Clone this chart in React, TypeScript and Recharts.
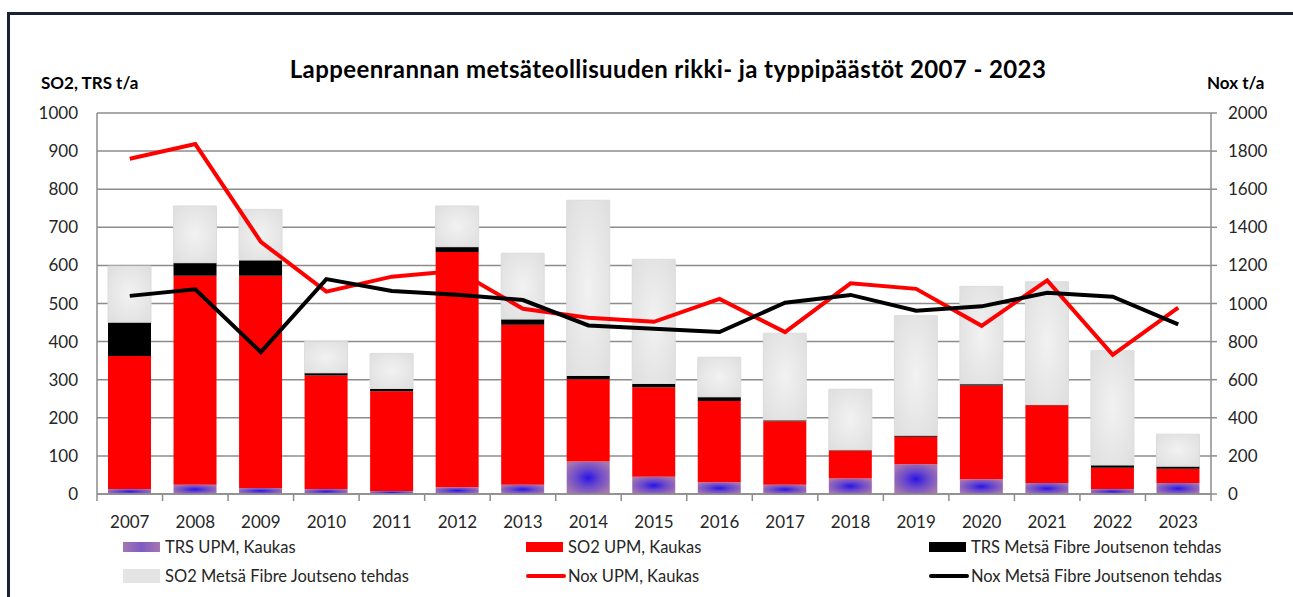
import React from "react";
import {
  ComposedChart,
  Bar,
  Line,
  XAxis,
  YAxis,
  CartesianGrid,
} from "recharts";

const years = ["2007", "2008", "2009", "2010", "2011", "2012", "2013", "2014", "2015", "2016", "2017", "2018", "2019", "2020", "2021", "2022", "2023"];
const trsUpm = [13, 24, 16, 13, 8, 18, 24, 85, 45, 31, 24, 41, 78, 39, 29, 13, 29];
const so2Upm = [349, 549, 557, 298, 262, 617, 420, 216, 235, 213, 167, 73, 72, 246, 204, 56, 37];
const trsMetsa = [89, 34, 41, 7, 7, 14, 15, 10, 10, 11, 3, 2, 4, 4, 2, 7, 7];
const so2Metsa = [147, 149, 133, 82, 92, 107, 173, 460, 326, 104, 228, 159, 314, 256, 322, 300, 84];
const noxUpm = [1760, 1837, 1324, 1062, 1141, 1172, 972, 925, 904, 1024, 850, 1106, 1077, 883, 1121, 730, 978];
const noxMetsa = [1040, 1075, 745, 1128, 1066, 1046, 1018, 885, 868, 850, 1004, 1045, 962, 985, 1056, 1036, 890];

const leftTicks = [0, 100, 200, 300, 400, 500, 600, 700, 800, 900, 1000];
const rightTicks = [0, 200, 400, 600, 800, 1000, 1200, 1400, 1600, 1800, 2000];

const data = years.map((year, i) => ({
  year,
  trsUpm: trsUpm[i],
  so2Upm: so2Upm[i],
  trsMetsa: trsMetsa[i],
  so2Metsa: so2Metsa[i],
  noxUpm: noxUpm[i],
  noxMetsa: noxMetsa[i],
}));

const W = 1293;
const H = 597;
const LEFT_W = 97;
const RIGHT_W = 82;
const BAND = (W - LEFT_W - RIGHT_W) / years.length;
const FONT = "Lato, 'Open Sans', sans-serif";
const TXT = "#262626";
const GRID = "#8c8c8c";

function YearTick(props: any) {
  const { x, y, payload, index } = props;
  return (
    <g>
      <line x1={x - BAND / 2} x2={x - BAND / 2} y1={y} y2={y + 7} stroke={GRID} strokeWidth={1.5} />
      {index === years.length - 1 && (
        <line x1={x + BAND / 2} x2={x + BAND / 2} y1={y} y2={y + 7} stroke={GRID} strokeWidth={1.5} />
      )}
      <text x={x} y={y + 34} textAnchor="middle" fill={TXT} fontSize={17} fontFamily={FONT}>
        {payload.value}
      </text>
    </g>
  );
}

const legendItems = [
  { label: "TRS UPM, Kaukas", kind: "box", color: "#9a6cb6" },
  { label: "SO2 UPM, Kaukas", kind: "box", color: "#ff0000" },
  { label: "TRS Metsä Fibre Joutsenon tehdas", kind: "box", color: "#000000" },
  { label: "SO2 Metsä Fibre Joutseno tehdas", kind: "gray", color: "#e4e4e4" },
  { label: "Nox UPM, Kaukas", kind: "line", color: "#ff0000" },
  { label: "Nox Metsä Fibre Joutsenon tehdas", kind: "line", color: "#000000" },
];

const colX = [123, 526, 929];
const rowY = [547, 576];

function ChartLegend() {
  return (
    <>
      {legendItems.map((item, i) => {
        const cx = colX[i % 3];
        const cy = rowY[Math.floor(i / 3)];
        let swatch;
        if (item.kind === "line") {
          swatch = (
            <div style={{ position: "absolute", left: cx, top: cy - 2, width: 40, height: 4, borderRadius: 2, background: item.color }} />
          );
        } else if (item.kind === "gray") {
          swatch = (
            <div style={{ position: "absolute", left: cx, top: cy - 7, width: 37, height: 14, background: item.color }} />
          );
        } else {
          swatch = (
            <div
              style={{
                position: "absolute",
                left: cx,
                top: cy - 5,
                width: 37,
                height: 10,
                background: i === 0 ? "linear-gradient(90deg, #a676b0, #7e5cc2, #a676b0)" : item.color,
              }}
            />
          );
        }
        return (
          <React.Fragment key={item.label}>
            {swatch}
            <div
              style={{
                position: "absolute",
                left: cx + 42,
                top: cy - 11,
                fontSize: 16.5,
                lineHeight: "22px",
                fontFamily: FONT,
                color: TXT,
                whiteSpace: "nowrap",
              }}
            >
              {item.label}
            </div>
          </React.Fragment>
        );
      })}
    </>
  );
}

export default function App() {
  return (
    <div style={{ position: "absolute", left: 0, top: 0, width: W, height: H, background: "#fff", overflow: "hidden" }}>
      <div
        style={{
          position: "absolute",
          left: 7,
          top: 12,
          width: W,
          height: H,
          borderTop: "3px solid #1b2236",
          borderLeft: "3px solid #1b2236",
        }}
      />
      <div
        style={{
          position: "absolute",
          left: 0,
          width: 1336,
          top: 54,
          textAlign: "center",
          fontFamily: FONT,
          fontWeight: 700,
          fontSize: 24,
          letterSpacing: 0.4,
          color: "#000",
        }}
      >
        Lappeenrannan metsäteollisuuden rikki- ja typpipäästöt 2007 - 2023
      </div>
      <div style={{ position: "absolute", left: 41, top: 72, fontFamily: FONT, fontWeight: 700, fontSize: 17, color: "#000" }}>
        SO2, TRS t/a
      </div>
      <div style={{ position: "absolute", left: 1207, top: 72, fontFamily: FONT, fontWeight: 700, fontSize: 17, color: "#000" }}>
        Nox t/a
      </div>
      <div style={{ position: "absolute", left: 0, top: 0 }}>
        <ComposedChart
          width={W}
          height={H}
          data={data}
          margin={{ top: 113, right: 0, bottom: 63, left: 0 }}
          barSize={43}
        >
          <defs>
            <radialGradient id="trsGrad" cx="50%" cy="50%" r="60%">
              <stop offset="0%" stopColor="#2a14e6" />
              <stop offset="45%" stopColor="#6a48cc" />
              <stop offset="100%" stopColor="#a676b0" />
            </radialGradient>
            <radialGradient id="grayGrad" cx="50%" cy="50%" r="70%">
              <stop offset="0%" stopColor="#f2f2f2" />
              <stop offset="100%" stopColor="#dedede" />
            </radialGradient>
          </defs>
          <CartesianGrid vertical={false} stroke={GRID} strokeWidth={1.5} yAxisId="left" />
          <XAxis
            dataKey="year"
            height={40}
            tick={<YearTick />}
            tickLine={false}
            tickSize={0}
            tickMargin={0}
            axisLine={{ stroke: GRID, strokeWidth: 1.5 }}
            interval={0}
          />
          <YAxis
            yAxisId="left"
            width={LEFT_W}
            domain={[0, 1000]}
            ticks={leftTicks}
            tickLine={false}
            tickSize={0}
            tickMargin={19}
            axisLine={{ stroke: GRID, strokeWidth: 1.5 }}
            tick={{ fill: TXT, fontSize: 17, fontFamily: FONT }}
          />
          <YAxis
            yAxisId="right"
            orientation="right"
            width={RIGHT_W}
            domain={[0, 2000]}
            ticks={rightTicks}
            tickLine={{ stroke: GRID, strokeWidth: 1.5 }}
            tickSize={6}
            tickMargin={11}
            axisLine={{ stroke: GRID, strokeWidth: 1.5 }}
            tick={{ fill: TXT, fontSize: 17, fontFamily: FONT, textAnchor: "start" }}
          />
          <Bar yAxisId="left" dataKey="trsUpm" stackId="a" fill="url(#trsGrad)" isAnimationActive={false} />
          <Bar yAxisId="left" dataKey="so2Upm" stackId="a" fill="#ff0000" isAnimationActive={false} />
          <Bar yAxisId="left" dataKey="trsMetsa" stackId="a" fill="#000000" isAnimationActive={false} />
          <Bar yAxisId="left" dataKey="so2Metsa" stackId="a" fill="url(#grayGrad)" stroke="#dcdcdc" strokeWidth={1} isAnimationActive={false} />
          <Line yAxisId="right" dataKey="noxUpm" stroke="#ff0000" strokeWidth={4} dot={false} type="linear" isAnimationActive={false} />
          <Line yAxisId="right" dataKey="noxMetsa" stroke="#000000" strokeWidth={4} dot={false} type="linear" isAnimationActive={false} />
        </ComposedChart>
      </div>
      <ChartLegend />
    </div>
  );
}
